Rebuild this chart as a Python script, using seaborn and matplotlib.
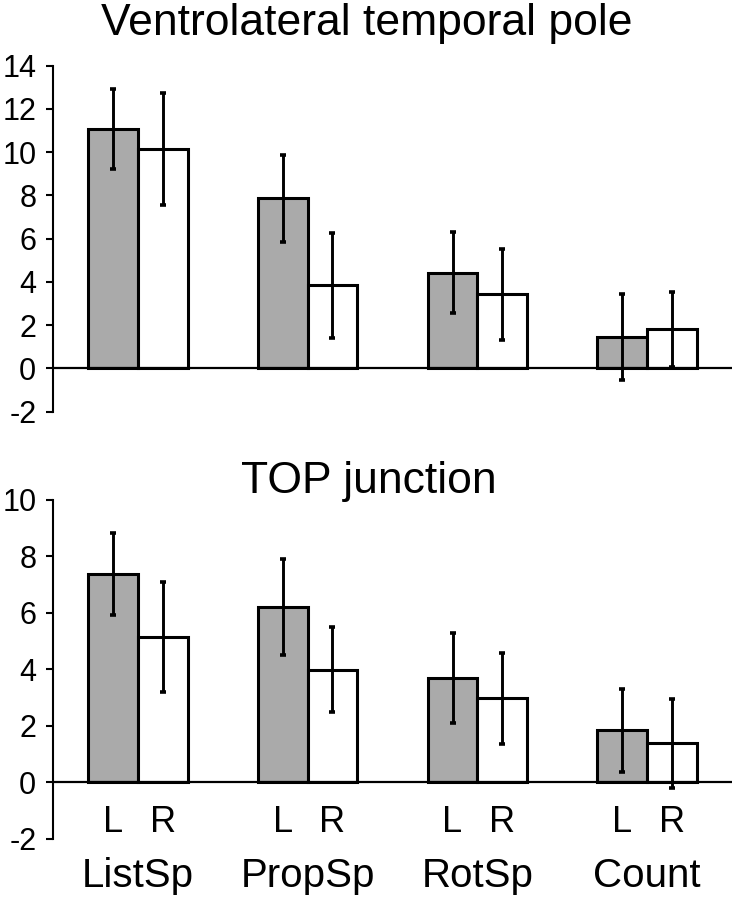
import matplotlib
matplotlib.use("Agg")
import matplotlib.pyplot as plt
import seaborn as sns
import pandas as pd

# Données
categories = ["ListSp", "PropSp", "RotSp", "Count"]
sides = ["L", "R"]

vtp_L = [11.06, 7.86, 4.43, 1.43]
vtp_R = [10.13, 3.84, 3.42, 1.80]
vtp_L_err = [1.85, 2.00, 1.87, 1.99]
vtp_R_err = [2.59, 2.43, 2.10, 1.72]

top_L = [7.35, 6.21, 3.68, 1.84]
top_R = [5.14, 3.99, 2.97, 1.38]
top_L_err = [1.45, 1.69, 1.59, 1.46]
top_R_err = [1.94, 1.49, 1.60, 1.58]

yticks_vtp = [-2, 0, 2, 4, 6, 8, 10, 12, 14]
yticks_top = [-2, 0, 2, 4, 6, 8, 10]

sns.set_style("white")
plt.rcParams['font.family'] = ['Liberation Sans', 'DejaVu Sans']
plt.rcParams['text.color'] = 'black'
plt.rcParams['ytick.color'] = 'black'
plt.rcParams['ytick.labelcolor'] = 'black'

W, H = 734, 899
fig = plt.figure(figsize=(W / 100, H / 100), dpi=100)

ax1 = fig.add_axes([53 / W, 1 - 411.5 / H, 679 / W, 345.8 / H])
ax2 = fig.add_axes([53 / W, 1 - 839 / H, 679 / W, 339.5 / H])


def draw_panel(ax, vals_L, vals_R, err_L, err_R, yticks, show_labels):
    df = pd.DataFrame({
        "cat": categories * 2,
        "side": ["L"] * len(categories) + ["R"] * len(categories),
        "val": vals_L + vals_R,
    })
    sns.barplot(data=df, x="cat", y="val", hue="side", hue_order=sides,
                order=categories, palette={"L": "#aaaaaa", "R": "white"},
                edgecolor="black", linewidth=2.2, width=0.585, gap=0,
                errorbar=None, legend=False, ax=ax)

    for cont, vals, errs, side in zip(ax.containers, [vals_L, vals_R],
                                       [err_L, err_R], sides):
        xs = [p.get_x() + p.get_width() / 2 for p in cont.patches]
        ax.errorbar(xs, vals, yerr=errs, fmt="none", ecolor="black",
                    elinewidth=2.1, capsize=2.5, capthick=2.6, zorder=5)
        if show_labels:
            for x in xs:
                ax.text(x, -1.74, side, ha="center", va="baseline",
                        fontsize=26)

    ax.axhline(0, color="black", linewidth=1.6, zorder=4)
    ax.set_xlim(-0.5, 3.5)
    ax.set_ylim(yticks[0], yticks[-1])
    ax.set_yticks(yticks)
    ax.set_yticklabels([str(t) for t in yticks], fontsize=22)
    ax.tick_params(axis="y", direction="out", length=5, width=1.5,
                   left=True, pad=7)
    ax.set_xticks([])
    ax.set_xlabel("")
    ax.set_ylabel("")
    for s in ["top", "right", "bottom"]:
        ax.spines[s].set_visible(False)
    ax.spines["left"].set_linewidth(1.5)
    ax.spines["left"].set_color("black")

    if show_labels:
        for i, c in enumerate(categories):
            ax.annotate(c, xy=(i, 0), xycoords=("data", "axes fraction"),
                        xytext=(0, -34.5), textcoords="offset points",
                        ha="center", va="baseline", fontsize=29)


draw_panel(ax1, vtp_L, vtp_R, vtp_L_err, vtp_R_err, yticks_vtp, False)
draw_panel(ax2, top_L, top_R, top_L_err, top_R_err, yticks_top, True)

fig.text(0.5, 1 - 35 / H, "Ventrolateral temporal pole", ha="center",
         va="baseline", fontsize=32)
fig.text(0.503, 1 - 493 / H, "TOP junction", ha="center",
         va="baseline", fontsize=32)

fig.savefig("out.png", dpi=100)
